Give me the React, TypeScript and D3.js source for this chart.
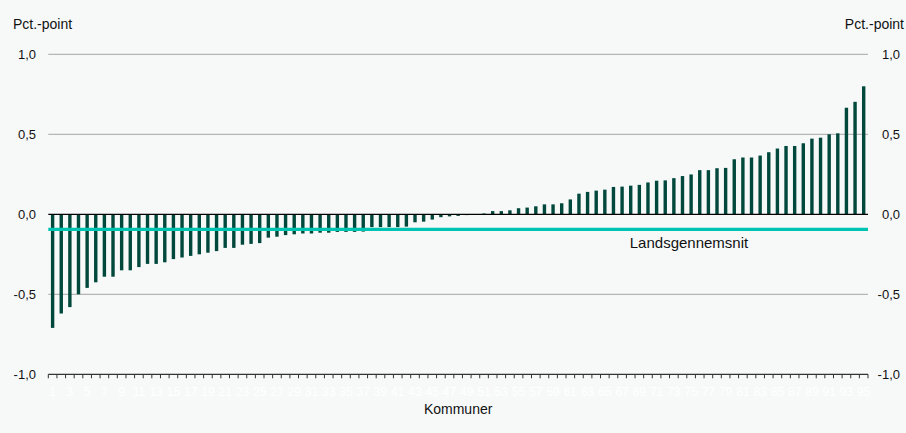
import React from "react";
import * as d3 from "d3";

const values: number[] = [
  -0.71, -0.62, -0.58, -0.5, -0.46, -0.425, -0.39, -0.39, -0.35, -0.35,
  -0.33, -0.31, -0.31, -0.3, -0.28, -0.27, -0.26, -0.25, -0.24, -0.23,
  -0.21, -0.21, -0.19, -0.185, -0.18, -0.146, -0.14, -0.13, -0.125, -0.12,
  -0.12, -0.115, -0.115, -0.11, -0.11, -0.11, -0.108, -0.08, -0.08, -0.08,
  -0.08, -0.077, -0.05, -0.046, -0.033, -0.018, -0.013, -0.01, -0.005, -0.001,
  0.005, 0.02, 0.02, 0.025, 0.038, 0.042, 0.05, 0.062, 0.062, 0.069,
  0.093, 0.129, 0.14, 0.148, 0.154, 0.171, 0.173, 0.179, 0.184, 0.199,
  0.21, 0.212, 0.226, 0.239, 0.249, 0.276, 0.276, 0.288, 0.29, 0.344,
  0.355, 0.355, 0.367, 0.388, 0.411, 0.427, 0.427, 0.444, 0.473, 0.479,
  0.5, 0.506, 0.666, 0.703, 0.8,
];
const categories: string[] = values.map((_, i) => String(i + 1));
const average = -0.094;
const yTicks: number[] = [1, 0.5, 0, -0.5, -1];
const yTickLabels: string[] = ["1,0", "0,5", "0,0", "-0,5", "-1,0"];
const unitLabel = "Pct.-point";
const xTitle = "Kommuner";
const avgLabel = "Landsgennemsnit";

const W = 906;
const H = 433;
const left = 48.3;
const right = 868;
const FONT = "'Liberation Sans', Arial, Helvetica, sans-serif";

export default function App() {
  const x = d3.scaleBand<string>().domain(categories).range([left, right]).padding(0);
  const y = d3.scaleLinear().domain([-1, 1]).range([374.3, 54.3]);
  const bw = x.bandwidth();
  const barW = 3.4;
  const boundaries = d3.range(categories.length + 1).map((i) => left + i * bw);

  return (
    <div style={{ position: "absolute", left: 0, top: 0, width: W, height: H }}>
      <svg width={W} height={H} style={{ display: "block", fontFamily: FONT }}>
        <rect x={0} y={0} width={W} height={H} fill="#f7f9f9" />
        {yTicks
          .filter((t) => t !== 0 && t !== -1)
          .map((t) => (
            <line key={"g" + t} x1={left} x2={right} y1={y(t)} y2={y(t)} stroke="#a6a6a6" strokeWidth={1} />
          ))}
        {values.map((v, i) => (
          <rect
            key={"b" + i}
            x={(x(categories[i]) as number) + bw / 2 - barW / 2}
            y={y(Math.max(0, v))}
            width={barW}
            height={Math.abs(y(v) - y(0))}
            fill="#00483c"
          />
        ))}
        <line x1={left} x2={right} y1={y(0)} y2={y(0)} stroke="#000" strokeWidth={1.3} />
        <line x1={left} x2={right} y1={y(average)} y2={y(average)} stroke="#00c4b2" strokeWidth={3.2} />
        <text x={689} y={y(average) + 18.5} fontSize={15} textAnchor="middle" fill="#111">{avgLabel}</text>
        <line x1={left} x2={right} y1={y(-1)} y2={y(-1)} stroke="#333" strokeWidth={1.2} />
        {boundaries.map((bx, i) => (
          <line key={"t" + i} x1={bx} x2={bx} y1={y(-1)} y2={y(-1) + 4} stroke="#333" strokeWidth={1} />
        ))}
        {categories.map((c, i) =>
          i % 2 === 0 ? (
            <text key={"xl" + i} x={(x(c) as number) + bw / 2} y={396} fontSize={12} fill="#ffffff" textAnchor="middle">
              {c}
            </text>
          ) : null
        )}
        {yTicks.map((t, i) => (
          <g key={"yl" + t}>
            <text x={36} y={y(t) + 4.7} fontSize={13} textAnchor="end" fill="#111">{yTickLabels[i]}</text>
            <text x={900} y={y(t) + 4.7} fontSize={13} textAnchor="end" fill="#111">{yTickLabels[i]}</text>
          </g>
        ))}
        <text x={13} y={29} fontSize={14} fill="#111">{unitLabel}</text>
        <text x={904} y={29} fontSize={14} textAnchor="end" fill="#111">{unitLabel}</text>
        <text x={(left + right) / 2} y={414} fontSize={14} textAnchor="middle" fill="#111">{xTitle}</text>
      </svg>
    </div>
  );
}
